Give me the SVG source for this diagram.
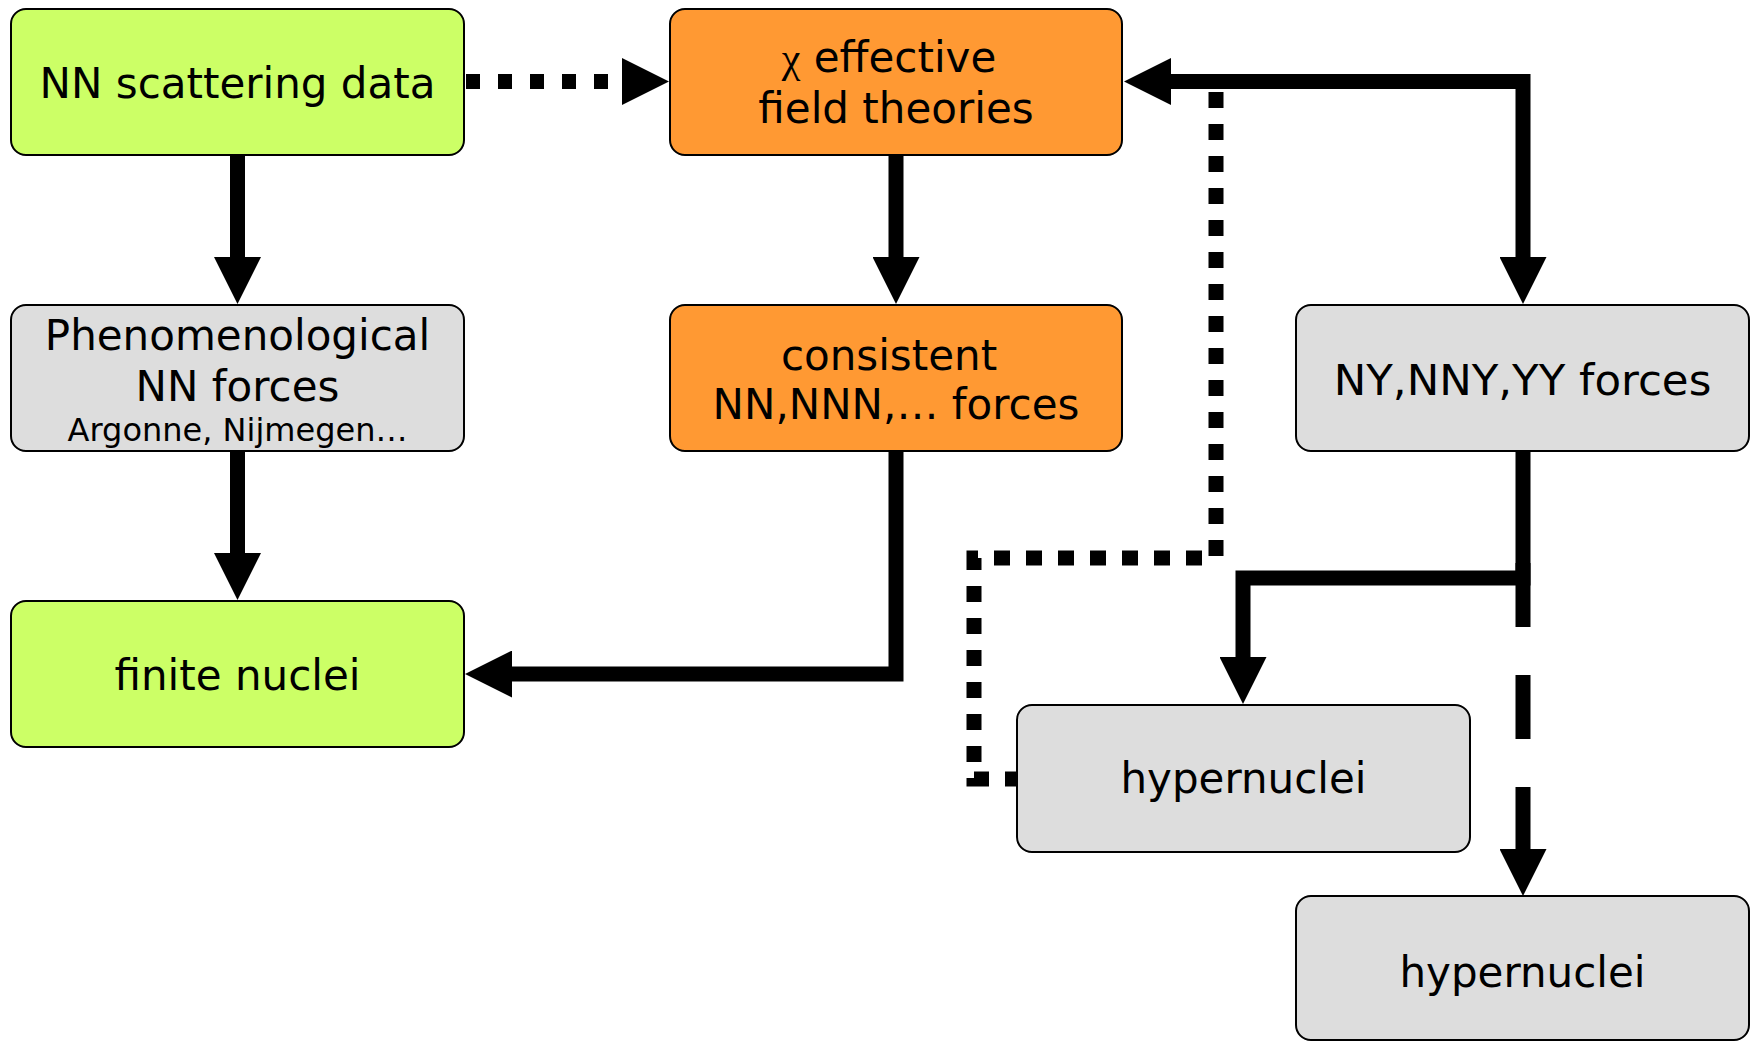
<svg xmlns="http://www.w3.org/2000/svg" width="1756" height="1041" viewBox="0 0 1756 1041">
<style>
.box{stroke:#000;stroke-width:2}
.green{fill:#ccff66}
.orange{fill:#ff9933}
.grey{fill:#dddddd}
.t{font-family:"DejaVu Sans","Verdana",sans-serif;font-size:42px;fill:#000;text-anchor:middle}
.s{font-size:32px}
.chi{font-family:"Liberation Serif","Times New Roman",serif}
.c{fill:none;stroke:#000;stroke-width:15;stroke-linejoin:miter;stroke-linecap:butt}
.dot{stroke-dasharray:16 16}
.dash{stroke-dasharray:64 48}
</style>
<defs>
<marker id="ah" viewBox="0 0 47 47" refX="0" refY="23.5" markerWidth="47" markerHeight="47" markerUnits="userSpaceOnUse" orient="auto-start-reverse">
<path d="M0,0 L47,23.5 L0,47 Z" fill="#000"/>
</marker>
</defs>
<g id="connectors">
<path class="c dot" d="M1021,779 H974 V558 H1216 V82"/>
<path class="c" d="M237.5,155 V257" marker-end="url(#ah)"/>
<path class="c" d="M237.5,451 V553" marker-end="url(#ah)"/>
<path class="c" d="M896,155 V257" marker-end="url(#ah)"/>
<path class="c" d="M896,451 V674 H512" marker-end="url(#ah)"/>
<path class="c" d="M1171,81.5 H1523 V257" marker-start="url(#ah)" marker-end="url(#ah)"/>
<path class="c" d="M1523,451 V578 H1243 V657" marker-end="url(#ah)"/>
<path class="c dash" d="M1523,563 V849" marker-end="url(#ah)"/>
<path class="c" style="stroke-dasharray:14 18" d="M466,81.5 H622" marker-end="url(#ah)"/>
</g>
<g id="nn-scattering">
<rect class="box green" x="11" y="9" width="453" height="146" rx="15"/>
<text class="t" x="237.5" y="98">NN scattering data</text>
</g>
<g id="chi-eft">
<rect class="box orange" x="670" y="9" width="452" height="146" rx="15"/>
<text class="t" x="889" y="72"><tspan class="chi">χ</tspan> effective</text>
<text class="t" x="896" y="123">field theories</text>
</g>
<g id="phenomenological">
<rect class="box grey" x="11" y="305" width="453" height="146" rx="15"/>
<text class="t" x="237.5" y="350">Phenomenological</text>
<text class="t" x="237.5" y="401">NN forces</text>
<text class="t s" x="237.5" y="441">Argonne, Nijmegen…</text>
</g>
<g id="consistent">
<rect class="box orange" x="670" y="305" width="452" height="146" rx="15"/>
<text class="t" x="889" y="370">consistent</text>
<text class="t" x="896" y="419">NN,NNN,… forces</text>
</g>
<g id="ny-forces">
<rect class="box grey" x="1296" y="305" width="453" height="146" rx="15"/>
<text class="t" x="1522.5" y="395" style="font-size:43.5px">NY,NNY,YY forces</text>
</g>
<g id="finite-nuclei">
<rect class="box green" x="11" y="601" width="453" height="146" rx="15"/>
<text class="t" x="237.5" y="690">finite nuclei</text>
</g>
<g id="hypernuclei-1">
<rect class="box grey" x="1017" y="705" width="453" height="147" rx="15"/>
<text class="t" x="1243.5" y="793">hypernuclei</text>
</g>
<g id="hypernuclei-2">
<rect class="box grey" x="1296" y="896" width="453" height="144" rx="15"/>
<text class="t" x="1522.5" y="987">hypernuclei</text>
</g>
</svg>
